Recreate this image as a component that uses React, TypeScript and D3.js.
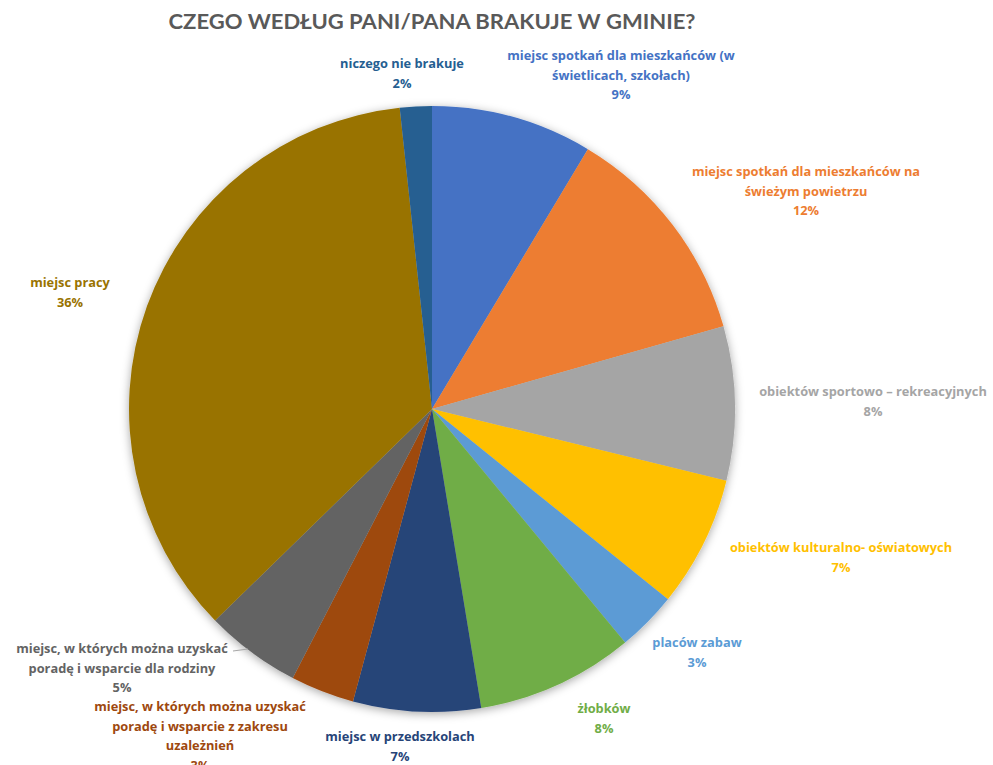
import * as d3 from "d3";

// kategorie (w kolejności od godziny 12, zgodnie z ruchem wskazówek)
const categories = [
  "miejsc spotkań dla mieszkańców (w świetlicach, szkołach)",
  "miejsc spotkań dla mieszkańców na świeżym powietrzu",
  "obiektów sportowo – rekreacyjnych",
  "obiektów kulturalno- oświatowych",
  "placów zabaw",
  "żłobków",
  "miejsc w przedszkolach",
  "miejsc, w których można uzyskać poradę i wsparcie z zakresu uzależnień",
  "miejsc, w których można uzyskać poradę i wsparcie dla rodziny",
  "miejsc pracy",
  "niczego nie brakuje",
];

// łamanie etykiet jak w oryginale
const labelLines = [
  ["miejsc spotkań dla mieszkańców (w", "świetlicach, szkołach)"],
  ["miejsc spotkań dla mieszkańców na", "świeżym powietrzu"],
  ["obiektów sportowo – rekreacyjnych"],
  ["obiektów kulturalno- oświatowych"],
  ["placów zabaw"],
  ["żłobków"],
  ["miejsc w przedszkolach"],
  ["miejsc, w których można uzyskać", "poradę i wsparcie z zakresu", "uzależnień"],
  ["miejsc, w których można uzyskać", "poradę i wsparcie dla rodziny"],
  ["miejsc pracy"],
  ["niczego nie brakuje"],
];

const shares = [8.6, 12.0, 8.2, 7.0, 3.2, 8.4, 6.8, 3.4, 5.1, 35.6, 1.7];

const colors = [
  "#4472C4", "#ED7D31", "#A5A5A5", "#FFC000", "#5B9BD5", "#70AD47",
  "#264478", "#9E480E", "#636363", "#997300", "#255E91",
];

// położenie etykiet: środek tekstu i linia bazowa pierwszego wiersza
const labelPos: [number, number][] = [
  [621, 60], [806, 176], [873, 396], [841, 552], [697, 647], [604, 713],
  [400, 741], [200, 711], [122, 653], [70, 287], [402, 68],
];

const W = 993;
const H = 765;
const cx = 432;
const cy = 409;
const radius = 303;
const lineH = 19.5;

export default function App() {
  const pie = d3.pie<number>().sort(null).value((d) => d);
  const arcs = pie(shares);
  const arc = d3.arc<d3.PieArcDatum<number>>().innerRadius(0).outerRadius(radius);
  const total = d3.sum(shares);
  const pct = (v: number) => `${Math.round((v / total) * 100)}%`;

  return (
    <svg
      width={W}
      height={H}
      style={{ position: "absolute", left: 0, top: 0, background: "#fff" }}
      fontFamily="'Open Sans', Lato, sans-serif"
    >
      <defs>
        <filter id="shadow" x="-20%" y="-20%" width="140%" height="140%">
          <feDropShadow dx="0" dy="2" stdDeviation="5" floodColor="#000" floodOpacity="0.35" />
        </filter>
      </defs>
      <text
        x={432}
        y={29}
        textAnchor="middle"
        fontSize={20}
        fontWeight="bold"
        fill="#595959"
        textLength={527}
        lengthAdjust="spacingAndGlyphs"
        fontFamily="Lato, sans-serif"
      >
        CZEGO WEDŁUG PANI/PANA BRAKUJE W GMINIE?
      </text>
      <g transform={`translate(${cx},${cy})`} filter="url(#shadow)">
        {arcs.map((a, i) => (
          <path key={categories[i]} d={arc(a) ?? ""} fill={colors[i]} />
        ))}
      </g>
      {/* linia odniesienia dla etykiety "dla rodziny" */}
      <line x1={233} y1={651} x2={248} y2={649} stroke="#A6A6A6" strokeWidth={1} />
      {arcs.map((a, i) => {
        const [lx, ly] = labelPos[i];
        const lines = [...labelLines[i], pct(a.data)];
        return (
          <text
            key={"l" + i}
            x={lx}
            y={ly}
            textAnchor="middle"
            fontSize={12.8}
            fontWeight="bold"
            fill={colors[i]}
          >
            {lines.map((t, j) => (
              <tspan key={j} x={lx} y={ly + j * lineH}>
                {t}
              </tspan>
            ))}
          </text>
        );
      })}
    </svg>
  );
}
